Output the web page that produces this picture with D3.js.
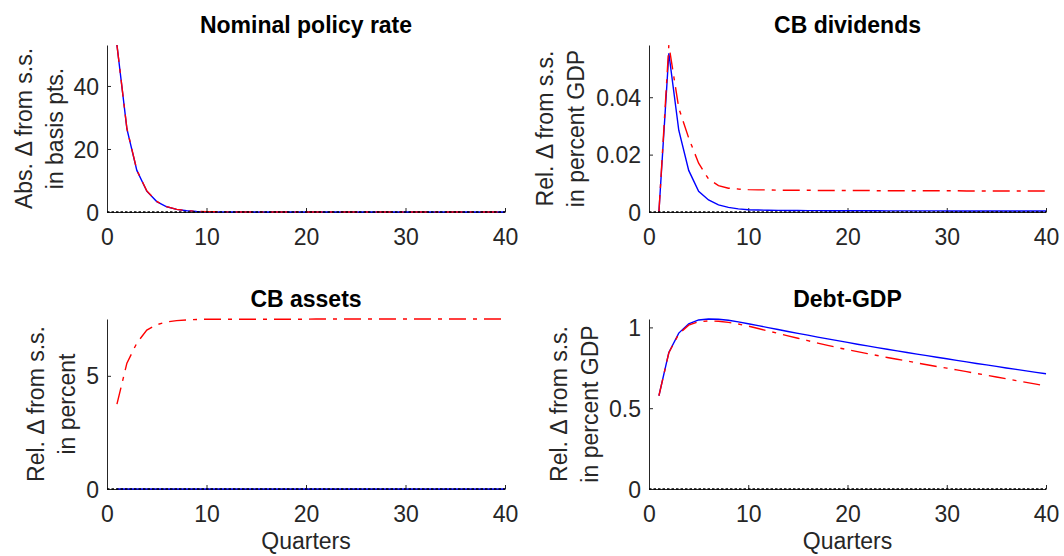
<!DOCTYPE html>
<html>
<head>
<meta charset="utf-8">
<script src="https://cdn.jsdelivr.net/npm/d3@7"></script>
<style>
  html, body { margin: 0; padding: 0; background: #fff; }
  svg { display: block; font-family: "Liberation Sans", Arial, Helvetica, sans-serif; }
</style>
</head>
<body>
<svg id="chart" width="1064" height="556"></svg>
<script>
// Impulse responses, quarters 1..40
const quarters = [1,2,3,4,5,6,7,8,9,10,11,12,13,14,15,16,17,18,19,20,
                  21,22,23,24,25,26,27,28,29,30,31,32,33,34,35,36,37,38,39,40];
const xTicks = [0, 10, 20, 30, 40];

// Nominal policy rate (basis points)
const rateBlue = [53.0,26.4,13.2,6.6,3.3,1.65,0.83,0.41,0.21,0.10,0.05,0.03,0.01,0.01,0,0,0,0,0,0,
                  0,0,0,0,0,0,0,0,0,0,0,0,0,0,0,0,0,0,0,0];
const rateRed  = [53.0,26.5,13.3,6.7,3.35,1.7,0.85,0.43,0.22,0.11,0.06,0.03,0.02,0.01,0,0,0,0,0,0,
                  0,0,0,0,0,0,0,0,0,0,0,0,0,0,0,0,0,0,0,0];
const rateTicks = [0, 20, 40];

// CB dividends (percent GDP)
const divBlue = [0,0.0553,0.0285,0.0145,0.0072,0.0042,0.0025,0.0016,0.0011,0.0008,
                 0.0007,0.0006,0.00055,0.0005,0.0005,0.00048,0.00047,0.00046,0.00045,0.00044,
                 0.00043,0.00042,0.00041,0.0004,0.0004,0.00039,0.00039,0.00038,0.00038,0.00037,
                 0.00037,0.00037,0.00036,0.00036,0.00036,0.00035,0.00035,0.00035,0.00035,0.00035];
const divRed  = [0,0.0582,0.0362,0.0258,0.0170,0.0115,0.0092,0.0083,0.0080,0.0078,
                 0.0077,0.0077,0.0076,0.0076,0.0076,0.0076,0.0075,0.0075,0.0075,0.0075,
                 0.0075,0.0075,0.0074,0.0074,0.0074,0.0074,0.0074,0.0074,0.0074,0.0074,
                 0.0074,0.0073,0.0073,0.0073,0.0073,0.0073,0.0073,0.0073,0.0073,0.0073];
const divTicks = [0, 0.02, 0.04];

// CB assets (percent)
const assetsBlue = [0,0,0,0,0,0,0,0,0,0,0,0,0,0,0,0,0,0,0,0,
                    0,0,0,0,0,0,0,0,0,0,0,0,0,0,0,0,0,0,0,0];
const assetsRed  = [3.75,5.56,6.45,7.02,7.26,7.38,7.44,7.47,7.49,7.50,
                    7.50,7.50,7.50,7.50,7.50,7.50,7.50,7.50,7.50,7.50,
                    7.51,7.51,7.51,7.51,7.51,7.51,7.51,7.51,7.51,7.51,
                    7.51,7.51,7.51,7.51,7.51,7.51,7.51,7.51,7.51,7.51];
const assetsTicks = [0, 5];

// Debt-GDP (percent GDP)
const debtBlue = [0.577,0.845,0.965,1.022,1.046,1.052,1.050,1.044,1.034,1.023,
                  1.011,0.999,0.987,0.975,0.963,0.952,0.940,0.929,0.918,0.907,
                  0.896,0.886,0.875,0.865,0.855,0.845,0.835,0.825,0.815,0.806,
                  0.796,0.787,0.777,0.768,0.759,0.749,0.740,0.731,0.722,0.713];
const debtRed  = [0.577,0.843,0.960,1.014,1.035,1.040,1.038,1.031,1.021,1.008,
                  0.993,0.978,0.963,0.948,0.933,0.918,0.903,0.889,0.875,0.862,
                  0.850,0.838,0.826,0.814,0.803,0.792,0.780,0.769,0.758,0.748,
                  0.737,0.726,0.715,0.704,0.693,0.682,0.671,0.660,0.649,0.638];
const debtTicks = [0, 0.5, 1];

const panels = [
  { title: "Nominal policy rate", blue: rateBlue, red: rateRed, ticks: rateTicks,
    ylab: ["Abs. \u0394 from s.s.", "in basis pts."], box: [107, 45, 505, 212], labX: [32, 63], xlab: false },
  { title: "CB dividends", blue: divBlue, red: divRed, ticks: divTicks,
    ylab: ["Rel. \u0394 from s.s.", "in percent GDP"], box: [649, 45, 1046, 212], labX: [553, 584], xlab: false },
  { title: "CB assets", blue: assetsBlue, red: assetsRed, ticks: assetsTicks,
    ylab: ["Rel. \u0394 from s.s.", "in percent"], box: [107, 319, 505, 489], labX: [43.5, 75], xlab: true },
  { title: "Debt-GDP", blue: debtBlue, red: debtRed, ticks: debtTicks,
    ylab: ["Rel. \u0394 from s.s.", "in percent GDP"], box: [649, 319, 1046, 489], labX: [567, 598], xlab: true }
];

const svg = d3.select("#chart");
const axisColor = "#262626";
const fs = 23;

panels.forEach(p => {
  const [x0, y0, x1, y1] = p.box;
  const x = d3.scaleLinear().domain([0, 40]).range([x0, x1]);
  const ymax = d3.max(p.blue.concat(p.red));
  const y = d3.scaleLinear().domain([0, ymax]).range([y1, y0]);
  const g = svg.append("g");

  // axes (ticks point inward)
  const xAxis = d3.axisBottom(x).tickValues(xTicks).tickSizeInner(-4).tickSizeOuter(0).tickFormat(d3.format("d"));
  const gx = g.append("g").attr("transform", `translate(0,${y1})`).call(xAxis);
  const yAxis = d3.axisLeft(y).tickValues(p.ticks).tickSizeInner(-4).tickSizeOuter(0).tickFormat(d => String(d));
  const gy = g.append("g").attr("transform", `translate(${x0},0)`).call(yAxis);
  [gx, gy].forEach(a => {
    a.select(".domain").attr("stroke", axisColor).attr("stroke-width", 1);
    a.selectAll(".tick line").attr("stroke", axisColor).attr("stroke-width", 1);
    a.selectAll(".tick text").attr("fill", axisColor).attr("font-size", fs)
      .attr("font-family", "'Liberation Sans', Arial, sans-serif");
  });
  gx.selectAll(".tick text").attr("y", 33).attr("dy", 0);
  gy.selectAll(".tick text").attr("x", -8).attr("dy", "0.35em");

  const line = d3.line().x((d, i) => x(quarters[i])).y(d => y(d));

  g.append("path").datum(p.blue).attr("d", line)
    .attr("fill", "none").attr("stroke", "#0000ff").attr("stroke-width", 1.4);
  g.append("path").datum(p.red).attr("d", line)
    .attr("fill", "none").attr("stroke", "#ff0000").attr("stroke-width", 1.4)
    .attr("stroke-dasharray", "17,7,4,7");

  // zero reference line
  g.append("line").attr("x1", x(0)).attr("x2", x(40)).attr("y1", y(0)).attr("y2", y(0))
    .attr("stroke", "#000").attr("stroke-width", 1.3).attr("stroke-dasharray", "2.5,2");

  // title
  g.append("text").attr("x", (x0 + x1) / 2).attr("y", y0 - 12)
    .attr("text-anchor", "middle").attr("font-weight", "bold").attr("font-size", fs)
    .attr("fill", "#000").text(p.title);

  // y label (two lines)
  const cy = (y0 + y1) / 2;
  p.ylab.forEach((t, i) => {
    g.append("text").attr("transform", `translate(${p.labX[i]},${cy}) rotate(-90)`)
      .attr("text-anchor", "middle").attr("font-size", fs).attr("fill", axisColor).text(t);
  });

  if (p.xlab) {
    g.append("text").attr("x", (x0 + x1) / 2).attr("y", 549)
      .attr("text-anchor", "middle").attr("font-size", fs).attr("fill", axisColor).text("Quarters");
  }
});
</script>
</body>
</html>
